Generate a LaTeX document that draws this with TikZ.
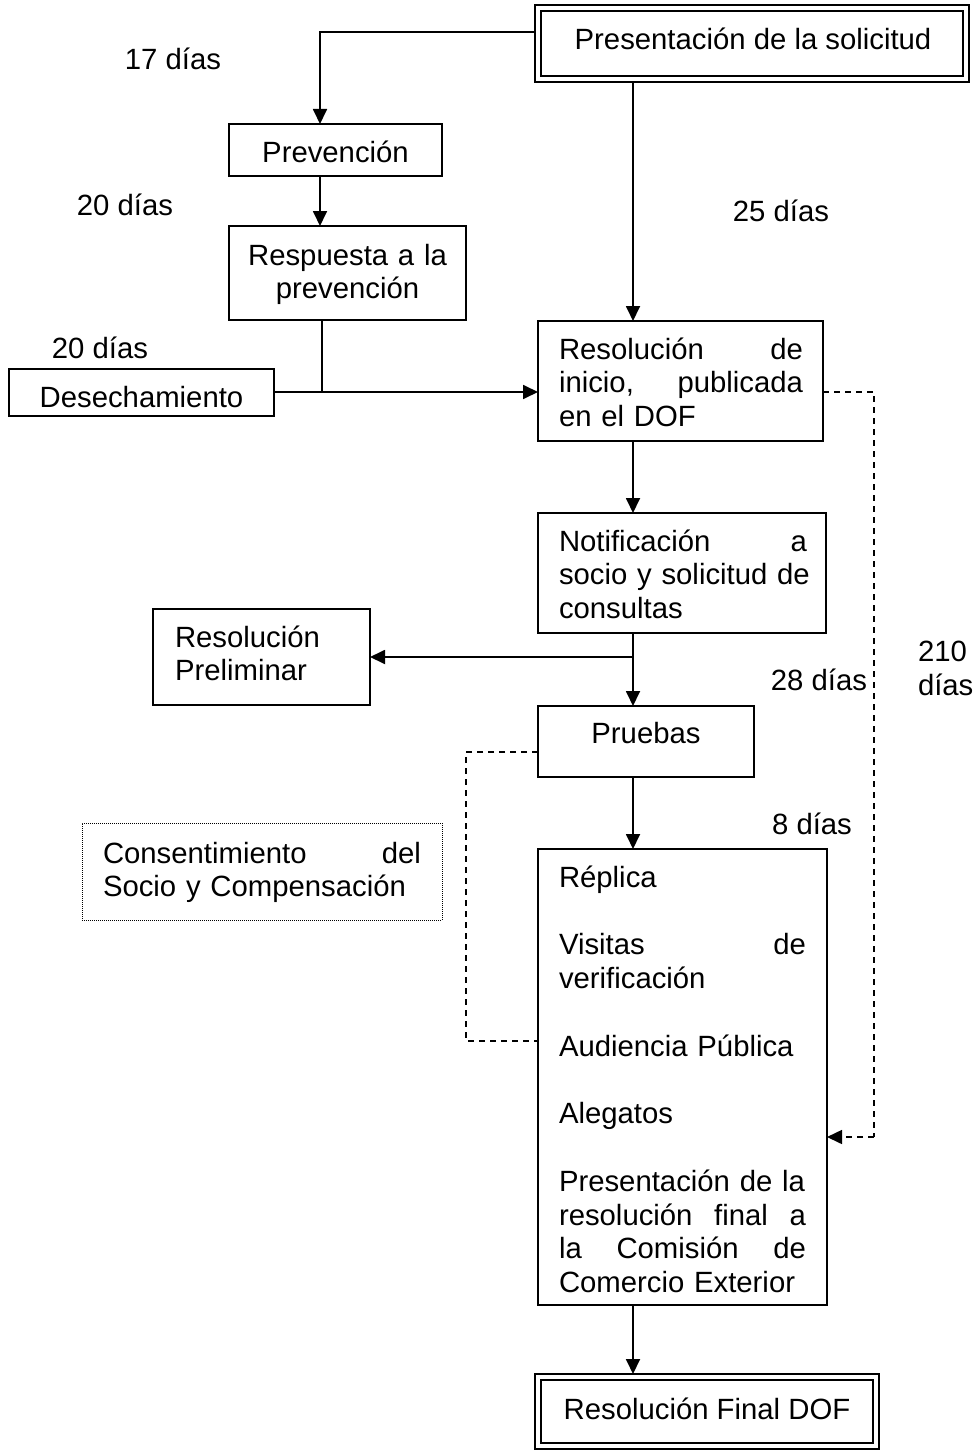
\documentclass[tikz,border=0pt]{standalone}
\usepackage{fontspec}
\setmainfont{Liberation Sans}
\usetikzlibrary{arrows.meta}
\begin{document}
\begin{tikzpicture}[x=1pt,y=-1pt,
  every node/.style={font=\fontsize{29.3}{33.8}\selectfont, inner sep=0pt, outer sep=0pt},
  box/.style={draw, line width=1.8pt, anchor=north west},
  outerbox/.style={draw, line width=2.4pt, anchor=north west},
  innerline/.style={line width=2pt},
  dotbox/.style={draw, line width=1pt, dash pattern=on 1pt off 1pt, anchor=north west},
  conn/.style={line width=1.8pt},
  tip/.style={-{Triangle[length=15pt,width=14pt]}},
  arr/.style={conn, tip},
  dashconn/.style={line width=1.6pt, dash pattern=on 6pt off 5pt},
  jtext/.style={anchor=base west, align=left},
  lbl/.style={anchor=base}
]
\useasboundingbox (0,0) rectangle (977,1450);

% boxes
\node[outerbox, minimum width=434pt, minimum height=77pt] (pres) at (535,5) {};
\draw[innerline] ([shift={(6,6)}]pres.north west) rectangle ([shift={(-6,-6)}]pres.south east);
\node[lbl] (prestxt) at (753,50) {Presentación de la solicitud};

\node[box, minimum width=213pt, minimum height=52pt] (prev) at (229,124) {};
\node[lbl] (prevtxt) at (335.5,163) {Prevención};

\node[box, minimum width=237pt, minimum height=94pt] (resp) at (229,226) {};
\node[anchor=base, text width=237pt, align=center] (resptxt) at (347.5,265) {Respuesta a la\\prevención};

\node[box, minimum width=265pt, minimum height=47pt] (des) at (9,369) {};
\node[lbl] (destxt) at (141.5,407) {Desechamiento};

\node[box, minimum width=285pt, minimum height=120pt] (ini) at (538,321) {};
\node[jtext, text width=244pt] (initxt) at (559,359) {Resolución\hfill de\\inicio,\hfill publicada\\en el DOF};

\node[box, minimum width=288pt, minimum height=120pt] (notif) at (538,513) {};
\node[jtext, text width=248pt] (notiftxt) at (559,551) {Notificación\hfill a\\\mbox{socio y solicitud de}\\consultas};

\node[box, minimum width=217pt, minimum height=96pt] (prelim) at (153,609) {};
\node[jtext, text width=180pt] (prelimtxt) at (175,647) {Resolución\\Preliminar};

\node[box, minimum width=216pt, minimum height=71pt] (prue) at (538,706) {};
\node[lbl] (pruetxt) at (646,743) {Pruebas};

\node[dotbox, minimum width=360pt, minimum height=97pt] (cons) at (82,823) {};
\node[jtext, text width=318pt] (constxt) at (103,863) {Consentimiento\hfill del\\Socio y Compensación};

\node[box, minimum width=289pt, minimum height=456pt] (rep) at (538,849) {};
\node[jtext, text width=247pt] (reptxt) at (559,887) {Réplica\\[33.8pt]Visitas\hfill de\\verificación\\[33.8pt]Audiencia Pública\\[33.8pt]Alegatos\\[33.8pt]\mbox{Presentación de la}\\resolución\hfill final\hfill a\\la\hfill Comisión\hfill de\\\mbox{Comercio Exterior}};

\node[outerbox, minimum width=344pt, minimum height=75pt] (fin) at (535,1374) {};
\draw[innerline] ([shift={(6,6)}]fin.north west) rectangle ([shift={(-6,-6)}]fin.south east);
\node[lbl] (fintxt) at (707,1419) {Resolución Final DOF};

% labels
\node[lbl] (l17) at (173,70) {17 días};
\node[lbl] (l20a) at (125,215) {20 días};
\node[lbl] (l20b) at (100,358) {20 días};
\node[lbl] (l25) at (781,222) {25 días};
\node[lbl] (l28) at (819,690) {28 días};
\node[jtext] (l210) at (918,695) {210\\días};
\node[lbl] (l8) at (812,834) {8 días};

% connector helpers
\coordinate (c17) at (320,32);
\coordinate (cmain) at (633,0);
\coordinate (cjoin) at (322,392);
\coordinate (cbr) at (633,657);
\coordinate (cdR) at (874,392);
\coordinate (cdRb) at (874,1137);
\coordinate (cdL) at (466,752);
\coordinate (cdLb) at (466,1041);

% connectors
\draw[arr] (pres.west |- c17) -| (prev.north -| c17);
\draw[arr] (prev.south -| c17) -- (resp.north -| c17);
\draw[conn] (resp.south -| cjoin) -- (cjoin);
\draw[arr] (des.east |- cjoin) -- (ini.west |- cjoin);
\draw[arr] (pres.south -| cmain) -- (ini.north -| cmain);
\draw[arr] (ini.south -| cmain) -- (notif.north -| cmain);
\draw[arr] (notif.south -| cmain) -- (prue.north -| cmain);
\draw[arr] (cbr) -- (prelim.east |- cbr);
\draw[arr] (prue.south -| cmain) -- (rep.north -| cmain);
\draw[arr] (rep.south -| cmain) -- (fin.north -| cmain);
\draw[dashconn] (ini.east |- cdR) -- (cdR) -- (cdRb);
\draw[dashconn, tip] (cdRb) -- (rep.east |- cdRb);
\draw[dashconn] (prue.west |- cdL) -- (cdL) -- (cdLb) -- (rep.west |- cdLb);
\end{tikzpicture}
\end{document}
